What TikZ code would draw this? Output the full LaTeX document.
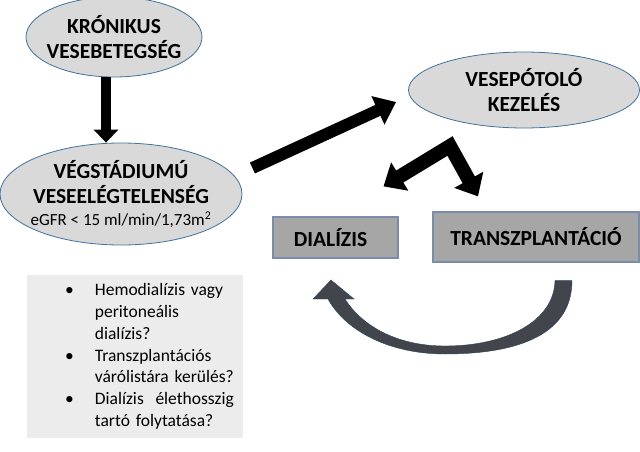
\documentclass[tikz,border=0pt]{standalone}
\usepackage{fontspec}
\setmainfont{Carlito}
\definecolor{ovalrand}{HTML}{41719C}
\definecolor{boxrand}{HTML}{7A8CA8}
\definecolor{pfeilgrau}{HTML}{42464C}
\usetikzlibrary{arrows.meta, shapes, positioning, calc}

\begin{document}
\begin{tikzpicture}[
    x=1pt, y=-1pt,
    oval/.style={ellipse, draw=ovalrand, line width=0.8pt, fill=black!15,
                 inner ysep=0pt, inner xsep=-12pt, align=center,
                 font=\fontsize{21.5}{25}\selectfont\bfseries},
    kasten/.style={rectangle, draw=boxrand, line width=1.2pt, fill=black!35,
                   font=\fontsize{21.5}{25}\selectfont\bfseries},
    listbox/.style={rectangle, fill=gray!15, inner sep=0pt, align=left,
                    font=\fontsize{17.5}{21.7}\selectfont},
    bigarr/.style={line width=12pt, black, line join=miter,
                   -{Triangle[length=20pt, width=30pt]}}
  ]
  \useasboundingbox (0,0) rectangle (640,452);

  \node[oval, minimum width=176, minimum height=80] (kron) at (114,37)
    {KR\'ONIKUS\\ VESEBETEGS\'EG};
  \node[oval, minimum width=242, minimum height=102] (veg) at (121,194)
    {V\'EGST\'ADIUM\'U\\ VESEEL\'EGTELENS\'EG\\[-3pt]
     {\fontsize{17}{20}\selectfont\mdseries eGFR < 15 ml/min/1,73m\textsuperscript{2}}};
  \node[oval, minimum width=231, minimum height=76] (vese) at (524,90)
    {VESEP\'OTOL\'O\\ KEZEL\'ES};

  \node[kasten, minimum width=125, minimum height=41] (dia) at (335.5,237.5)
    {\hspace*{-10pt}DIAL\'IZIS};
  \node[kasten, minimum width=206, minimum height=50] (trans) at (536,237)
    {TRANSZPLANT\'ACI\'O};

  \node[listbox, text width=216, minimum height=163, anchor=north west]
    (fragen) at (27,275)
    {\begin{tabular}{@{\hspace{38pt}}c@{\hspace{21pt}}l@{}}
      \textbullet & Hemodial\'izis vagy\\
                  & peritone\'alis\\
                  & dial\'izis?\\
      \textbullet & Transzplant\'aci\'os\\
                  & v\'ar\'olist\'ara ker\"ul\'es?\\
      \textbullet & Dial\'izis\ \ \'elethosszig\\
                  & tart\'o folytat\'asa?
     \end{tabular}};

  % arrows between the steps
  \draw[black, line width=10pt, -{Triangle[length=13pt, width=24pt]}]
    ([xshift=-8pt]kron.south) -- ([xshift=-8pt]kron.south |- veg.north);
  \draw[bigarr] ([shift={(10,-26)}]veg.east) -- ([shift={(-12,12)}]vese.west);

  % split into dialysis and transplantation
  \coordinate (split) at (450,146);
  \draw[line width=14pt, black, line join=miter,
        {Triangle[length=19pt, width=32pt]}-{Triangle[length=19pt, width=32pt]}]
    ([shift={(48,-30)}]dia.north) -- (split) -- ([shift={(-58,-15)}]trans.north);

  % curved arrow back from transplantation to dialysis
  \fill[pfeilgrau, draw=ovalrand!60!black, line width=0.4pt]
    ([shift={(36,18)}]trans.south)
      .. controls +(0,58) and (510,354) .. (445,354)
      .. controls (388,354) and (345,330) .. (328,299)
      -- (313,299) -- (331,280) -- (354,299) -- (345,299)
      .. controls (362,326) and (397,346) .. (445,346)
      .. controls (505,346) and (554,322) .. ([shift={(19,18)}]trans.south)
      -- cycle;
\end{tikzpicture}
\end{document}
